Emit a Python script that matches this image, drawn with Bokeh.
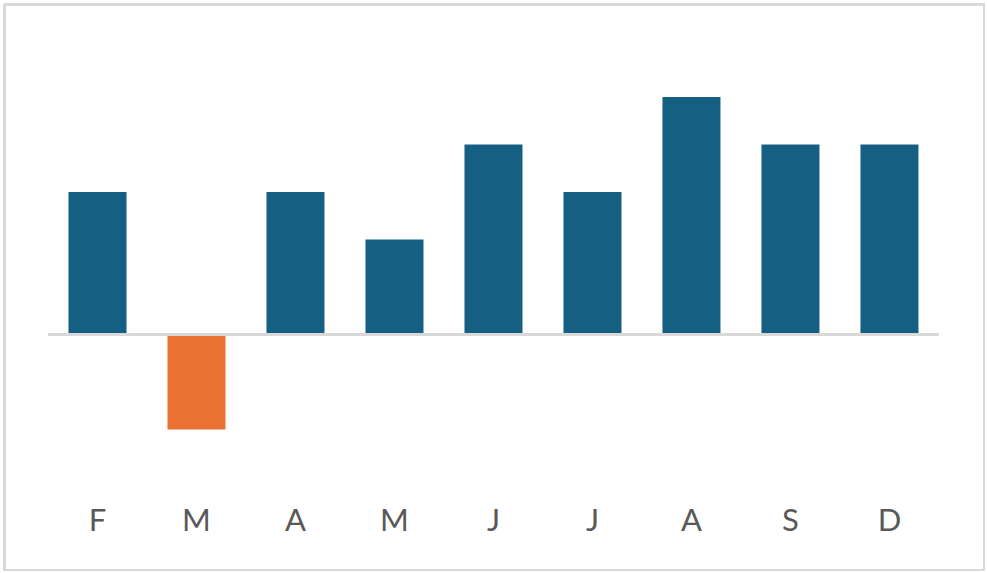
from bokeh.plotting import figure
from bokeh.models import Range1d
from bokeh.embed import file_html
from bokeh.resources import INLINE
from bokeh.core.properties import value

# ---- data ----
months = ["Feb", "Mar", "Apr", "May", "Jun", "Jul", "Aug", "Sep", "Dec"]
labels = ["F", "M", "A", "M", "J", "J", "A", "S", "D"]
values = [3, -2, 3, 2, 4, 3, 5, 4, 4]

# ---- style ----
BLUE = "#156082"
ORANGE = "#E97132"
GRAY_LINE = "#d9d9d9"
LABEL_COLOR = "#595959"

colors = [BLUE if v >= 0 else ORANGE for v in values]
pos = list(range(len(months)))

W, H = 985, 571
p = figure(width=W, height=H, output_backend="svg", toolbar_location=None,
           x_range=Range1d(-0.9394, 8.960), y_range=Range1d(-4.968, 6.947),
           x_axis_location=None, y_axis_location=None,
           min_border=0, min_border_left=4, min_border_right=1,
           min_border_top=4, min_border_bottom=1)
p.grid.visible = False
p.background_fill_color = "white"
p.border_fill_color = "white"
p.outline_line_color = GRAY_LINE
p.outline_line_width = 3

p.vbar(x=pos, top=values, bottom=0, width=0.586,
       fill_color=colors, line_color=None)

p.segment(x0=[-0.5], y0=[0], x1=[len(months) - 0.5], y1=[0],
          line_color=GRAY_LINE, line_width=3)

p.text(x=pos, y=[-3.89] * len(pos), text=labels,
       text_align="center", text_baseline="middle",
       text_font=value("Lato"), text_font_size="31px",
       text_color=LABEL_COLOR)

open("out.html", "w").write(file_html(p, INLINE))
